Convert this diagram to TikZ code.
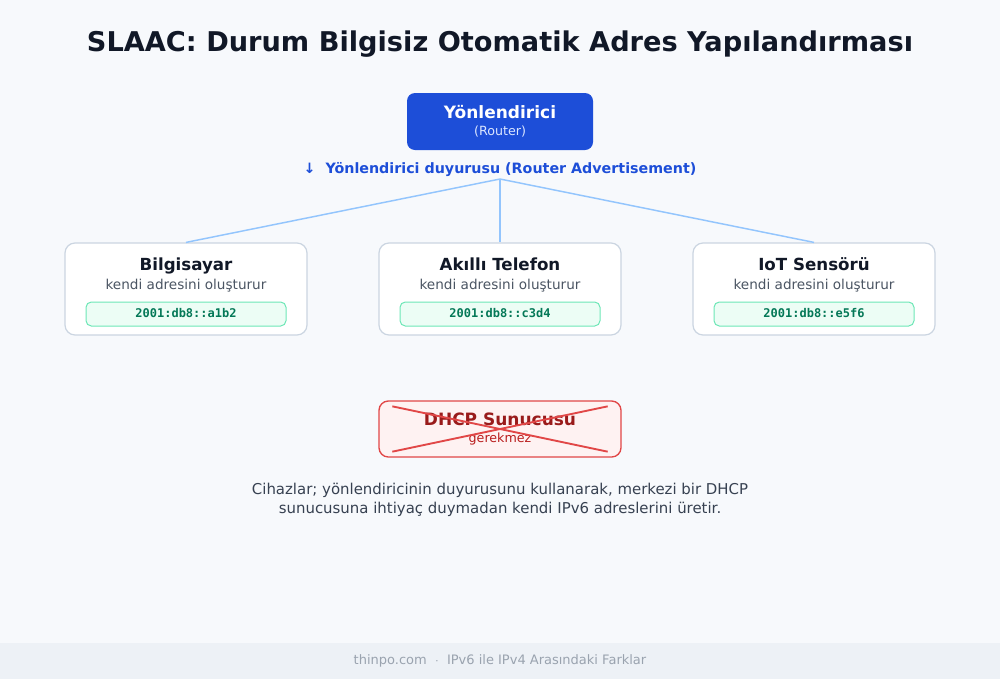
\documentclass[tikz,border=0pt]{standalone}
\usepackage{fontspec}
\setmainfont{DejaVu Sans}
\setmonofont{DejaVu Sans Mono}
\usetikzlibrary{calc}
\definecolor{bgc}{HTML}{F7F9FC}
\definecolor{footc}{HTML}{EDF1F6}
\definecolor{foott}{HTML}{9AA3AF}
\definecolor{titlec}{HTML}{111827}
\definecolor{routerc}{HTML}{1D4ED8}
\definecolor{routersub}{HTML}{DBE6FF}
\definecolor{linec}{HTML}{93C5FD}
\definecolor{devborder}{HTML}{CBD5E1}
\definecolor{subc}{HTML}{4B5563}
\definecolor{pillfill}{HTML}{ECFDF5}
\definecolor{pillborder}{HTML}{6EE7B7}
\definecolor{pilltext}{HTML}{047857}
\definecolor{dhcpfill}{HTML}{FEF2F2}
\definecolor{dhcpborder}{HTML}{DC2626}
\definecolor{dhcptext}{HTML}{991B1B}
\definecolor{dhcpsub}{HTML}{B91C1C}
\definecolor{capc}{HTML}{374151}
\begin{document}
\begin{tikzpicture}[x=0.75pt,y=-0.75pt,
  txt/.style={inner sep=0pt,anchor=base},
  devbox/.style={draw=devborder,line width=0.9pt,fill=white,rounded corners=7.5pt,minimum width=181.5pt,minimum height=69pt,inner sep=0pt},
  pill/.style={draw=pillborder,line width=0.75pt,fill=pillfill,rounded corners=4pt,minimum width=150pt,minimum height=18pt,inner sep=0pt},
  pilltxt/.style={txt,font=\ttfamily\bfseries\fontsize{9}{11}\selectfont,text=pilltext},
  devtitle/.style={txt,font=\bfseries\fontsize{12.5}{14}\selectfont,text=titlec},
  devsub/.style={txt,font=\fontsize{10.2}{12}\selectfont,text=subc},
  conn/.style={draw=linec,line width=1.1pt},
  cross/.style={draw=dhcpborder!85,line width=1.4pt}]
\fill[bgc] (0,0) rectangle (1000,679);
\useasboundingbox (0,0) rectangle (1000,679);
\fill[footc] (0,643) rectangle (1000,679);
\node[txt,font=\fontsize{9.75}{12}\selectfont,text=foott] (foot) at (500,664) {thinpo.com \ $\cdot$\ \ IPv6 ile IPv4 Arasındaki Farklar};
\node[txt,font=\bfseries\fontsize{20.4}{24}\selectfont,text=titlec] (title) at (500,51) {SLAAC: Durum Bilgisiz Otomatik Adres Yapılandırması};
% router
\node[fill=routerc,rounded corners=6pt,minimum width=139.5pt,minimum height=42.75pt,inner sep=0pt] (router) at (500,121.5) {};
\node[txt,font=\bfseries\fontsize{12.75}{15}\selectfont,text=white] (rt) at (500,118) {Yönlendirici};
\node[txt,font=\fontsize{9.5}{11}\selectfont,text=routersub] (rs) at (500,135.5) {(Router)};
\node[txt,font=\bfseries\fontsize{10.7}{13}\selectfont,text=routerc] (ra) at (500,173) {↓\ \ Yönlendirici duyurusu (Router Advertisement)};
\coordinate (hub) at (500,179);
% devices
\node[devbox] (d1) at (186,289) {};
\node[devbox] (d2) at (500,289) {};
\node[devbox] (d3) at (814,289) {};
\draw[conn] (hub) -- (d1.north);
\draw[conn] (hub) -- (d2.north);
\draw[conn] (hub) -- (d3.north);
\node[devtitle] (t1) at (186,270) {Bilgisayar};
\node[devtitle] (t2) at (500,270) {Akıllı Telefon};
\node[devtitle] (t3) at (814,270) {IoT Sensörü};
\node[devsub] (s1) at (186,289.5) {kendi adresini oluşturur};
\node[devsub] (s2) at (500,289.5) {kendi adresini oluşturur};
\node[devsub] (s3) at (814,289.5) {kendi adresini oluşturur};
\node[pill] (p1) at (186,314) {};
\node[pill] (p2) at (500,314) {};
\node[pill] (p3) at (814,314) {};
\node[pilltxt] (pt1) at (186,317.5) {2001:db8::a1b2};
\node[pilltxt] (pt2) at (500,317.5) {2001:db8::c3d4};
\node[pilltxt] (pt3) at (814,317.5) {2001:db8::e5f6};
% dhcp
\node[draw=dhcpborder!85,line width=1pt,fill=dhcpfill,rounded corners=7pt,minimum width=181.5pt,minimum height=42pt,inner sep=0pt] (dhcp) at (500,429) {};
\node[txt,font=\bfseries\fontsize{12.75}{15}\selectfont,text=dhcptext] (dt) at (500,425) {DHCP Sunucusu};
\node[txt,font=\fontsize{9.5}{11}\selectfont,text=dhcpsub] (ds) at (500,442.5) {gerekmez};
\draw[cross] ($(dhcp.north west)+(14,6)$) -- ($(dhcp.south east)+(-14,-6)$);
\draw[cross] ($(dhcp.south west)+(14,-6)$) -- ($(dhcp.north east)+(-14,6)$);
% caption
\node[txt,font=\fontsize{11.2}{14.25}\selectfont,text=capc] (cap1) at (500,494) {Cihazlar; yönlendiricinin duyurusunu kullanarak, merkezi bir DHCP};
\node[txt,font=\fontsize{11.2}{14.25}\selectfont,text=capc] (cap2) at (500,513) {sunucusuna ihtiyaç duymadan kendi IPv6 adreslerini üretir.};
\end{tikzpicture}
\end{document}
